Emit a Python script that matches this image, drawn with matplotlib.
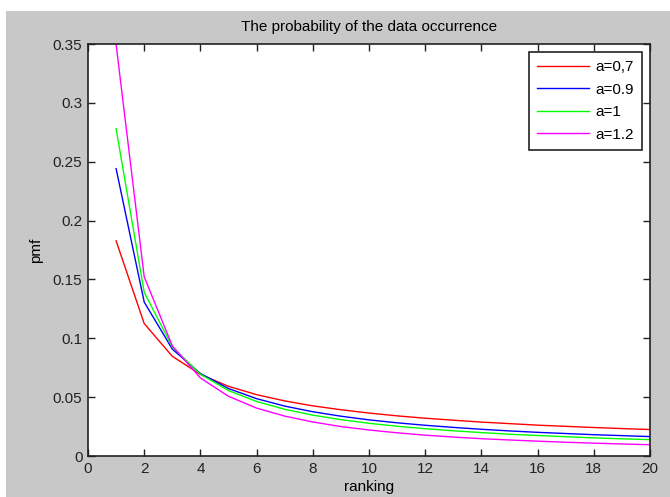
import matplotlib
matplotlib.use('Agg')
import matplotlib.pyplot as plt
from matplotlib.patches import Rectangle

plt.rcParams['font.family'] = ['Liberation Sans', 'DejaVu Sans']

# ranking 1..20
ranking = [1, 2, 3, 4, 5, 6, 7, 8, 9, 10, 11, 12, 13, 14, 15, 16, 17, 18, 19, 20]

pmf_07 = [0.1828, 0.1125, 0.0847, 0.0693, 0.0592, 0.0521, 0.0468, 0.0426, 0.0393, 0.0365,
          0.0341, 0.0321, 0.0304, 0.0288, 0.0275, 0.0262, 0.0252, 0.0242, 0.0233, 0.0225]
pmf_09 = [0.2441, 0.1308, 0.0908, 0.0701, 0.0573, 0.0487, 0.0424, 0.0376, 0.0338, 0.0307,
          0.0282, 0.0261, 0.0243, 0.0227, 0.0213, 0.0201, 0.0191, 0.0181, 0.0173, 0.0165]
pmf_10 = [0.2780, 0.1390, 0.0927, 0.0695, 0.0556, 0.0463, 0.0397, 0.0347, 0.0309, 0.0278,
          0.0253, 0.0232, 0.0214, 0.0199, 0.0185, 0.0174, 0.0164, 0.0154, 0.0146, 0.0139]
pmf_12 = [0.3498, 0.1522, 0.0936, 0.0663, 0.0507, 0.0407, 0.0339, 0.0289, 0.0250, 0.0221,
          0.0197, 0.0177, 0.0161, 0.0147, 0.0136, 0.0126, 0.0117, 0.0109, 0.0102, 0.0096]

labels = ['a=0,7', 'a=0.9', 'a=1', 'a=1.2']
colors = ['#ff0000', '#0000ff', '#00ff00', '#ff00ff']

W, H = 670, 497
fig = plt.figure(figsize=(W / 100, H / 100), dpi=100)
fig.patch.set_facecolor('white')
# grey matlab window area
fig.patches.append(Rectangle((6 / W, 0), 1 - 6 / W, 1 - 11 / H, transform=fig.transFigure,
                             facecolor='#c8c8c8', edgecolor='none', zorder=-10))

ax = fig.add_axes([88 / W, 1 - 456 / H, (650 - 88) / W, (456 - 44) / H])
for ys, lab, c in zip([pmf_07, pmf_09, pmf_10, pmf_12], labels, colors):
    ax.plot(ranking, ys, color=c, lw=1.0, label=lab)

ax.set_xlim(0, 20)
ax.set_ylim(0, 0.35)
ax.set_xticks(range(0, 21, 2))
ax.set_yticks([0, 0.05, 0.1, 0.15, 0.2, 0.25, 0.3, 0.35])
ax.set_yticklabels(['0', '0.05', '0.1', '0.15', '0.2', '0.25', '0.3', '0.35'])
ax.tick_params(direction='in', top=True, right=True, length=5, width=1,
               labelsize=11, colors='#222222', pad=4)
for s in ax.spines.values():
    s.set_linewidth(1.2)
    s.set_color('#222222')

ax.set_title('The probability of the data occurrence', fontsize=11, pad=9)
ax.set_xlabel('ranking', fontsize=11, labelpad=3)
ax.set_ylabel('pmf', fontsize=11, labelpad=7)

leg = ax.legend(loc='upper right', bbox_to_anchor=(642 / W, 1 - 52 / H),
                bbox_transform=fig.transFigure, fontsize=11, fancybox=False,
                framealpha=1, edgecolor='#222222', borderaxespad=0,
                handlelength=3.4, handletextpad=0.4, labelspacing=0.55,
                borderpad=0.55)
leg.get_frame().set_linewidth(1.2)

fig.savefig('out.png', dpi=100)
